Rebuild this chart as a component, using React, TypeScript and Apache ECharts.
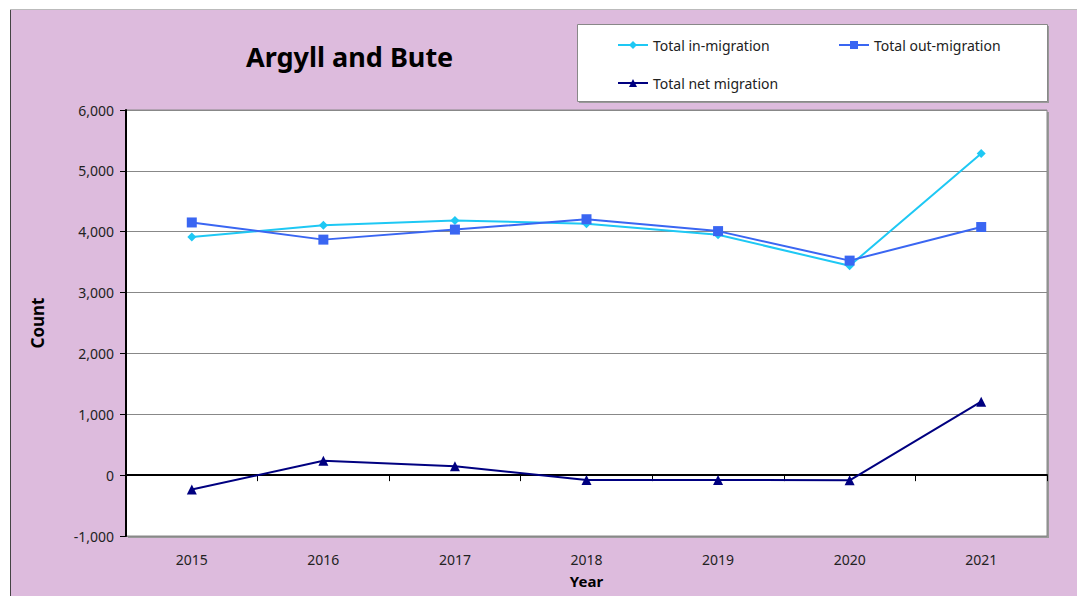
import React, { useEffect, useRef } from "react";
import * as echarts from "echarts";

const years = ["2015", "2016", "2017", "2018", "2019", "2020", "2021"];
const inMigration = [3915, 4105, 4185, 4130, 3950, 3440, 5285];
const outMigration = [4152, 3870, 4035, 4205, 4010, 3525, 4077];
const netMigration = [-237, 235, 145, -80, -80, -85, 1208];
const seriesNames = ["Total in-migration", "Total out-migration", "Total net migration"];

const FONT = "'Noto Sans', 'Open Sans', sans-serif";

export default function App() {
  const ref = useRef<HTMLDivElement>(null);
  useEffect(() => {
    if (!ref.current) return;
    const chart = echarts.init(ref.current, null, { renderer: "svg" });
    const legendText = { fontSize: 14, color: "#222", fontFamily: FONT };
    chart.setOption({
      animation: false,
      textStyle: { fontFamily: FONT },
      graphic: [
        { type: "rect", z: -10, shape: { x: 10, y: 9, width: 1067, height: 587 }, style: { fill: "#DDBBDD" } },
        { type: "line", z: -9, shape: { x1: 10.5, y1: 9, x2: 10.5, y2: 596 }, style: { stroke: "#444", lineWidth: 1 } },
        { type: "line", z: -9, shape: { x1: 10, y1: 9.5, x2: 1077, y2: 9.5 }, style: { stroke: "#bbb", lineWidth: 1 } },
        { type: "rect", z: -8, shape: { x: 579, y: 26, width: 470, height: 77 }, style: { fill: "#999" } },
        { type: "rect", z: -7, shape: { x: 577.5, y: 24.5, width: 470, height: 77 }, style: { fill: "#fff", stroke: "#888", lineWidth: 1 } },
        { type: "rect", z: -8, shape: { x: 128, y: 112, width: 921, height: 426 }, style: { fill: "#999" } },
        {
          type: "text",
          left: 246,
          top: 43,
          style: { text: "Argyll and Bute", font: `bold 27px ${FONT}`, fill: "#000" },
        },
      ],
      legend: [
        { data: [seriesNames[0]], left: 612, top: 33, itemWidth: 30, itemHeight: 10, itemGap: 0, textStyle: legendText },
        { data: [seriesNames[1]], left: 833, top: 33, itemWidth: 30, itemHeight: 10, itemGap: 0, textStyle: legendText },
        { data: [seriesNames[2]], left: 612, top: 71, itemWidth: 30, itemHeight: 10, itemGap: 0, textStyle: legendText },
      ],
      grid: {
        left: 126,
        right: 30,
        top: 110,
        bottom: 60,
        outerBoundsMode: "none",
        containLabel: false,
        show: true,
        backgroundColor: "#fff",
        borderColor: "#888",
        borderWidth: 1,
      },
      xAxis: [
        {
          type: "category",
          data: years,
          boundaryGap: true,
          position: "bottom",
          axisLine: { show: false, onZero: false },
          axisTick: { show: false },
          axisLabel: { fontSize: 14, color: "#222", margin: 16, fontFamily: FONT },
          name: "Year",
          nameLocation: "middle",
          nameGap: 37,
          nameTextStyle: { fontSize: 15, fontWeight: "bold", color: "#000", fontFamily: FONT },
          splitLine: { show: false },
        },
        {
          type: "category",
          data: years,
          boundaryGap: true,
          position: "bottom",
          axisLine: { show: true, onZero: true, lineStyle: { color: "#000", width: 2 } },
          axisTick: { show: true, inside: false, length: 6, lineStyle: { color: "#000", width: 1 } },
          axisLabel: { show: false },
          splitLine: { show: false },
        },
      ],
      yAxis: {
        type: "value",
        min: -1000,
        max: 6000,
        interval: 1000,
        axisLine: { show: true, lineStyle: { color: "#000", width: 2 } },
        axisTick: { show: true, length: 6, lineStyle: { color: "#000", width: 1 } },
        axisLabel: {
          fontSize: 14,
          color: "#222",
          margin: 12,
          fontFamily: FONT,
          formatter: (v: number) => v.toLocaleString("en-US"),
        },
        splitLine: { show: true, lineStyle: { color: "#888", width: 1 } },
        name: "Count",
        nameLocation: "middle",
        nameGap: 80,
        nameTextStyle: { fontSize: 17, fontWeight: "bold", color: "#000", fontFamily: FONT },
      },
      series: [
        {
          name: seriesNames[0],
          type: "line",
          data: inMigration,
          symbol: "diamond",
          symbolSize: 9,
          color: "#1EC8F4",
          lineStyle: { width: 2, color: "#1EC8F4" },
          itemStyle: { color: "#1EC8F4" },
          z: 3,
        },
        {
          name: seriesNames[1],
          type: "line",
          data: outMigration,
          symbol: "rect",
          symbolSize: 10,
          color: "#3A66F2",
          lineStyle: { width: 2, color: "#3A66F2" },
          itemStyle: { color: "#3A66F2" },
          z: 4,
        },
        {
          name: seriesNames[2],
          type: "line",
          data: netMigration,
          symbol: "triangle",
          symbolSize: 10,
          color: "#000080",
          lineStyle: { width: 2, color: "#000080" },
          itemStyle: { color: "#000080" },
          z: 5,
        },
      ],
    });
    return () => chart.dispose();
  }, []);
  return (
    <div
      ref={ref}
      style={{ position: "absolute", left: 0, top: 0, width: 1077, height: 596 }}
    />
  );
}
